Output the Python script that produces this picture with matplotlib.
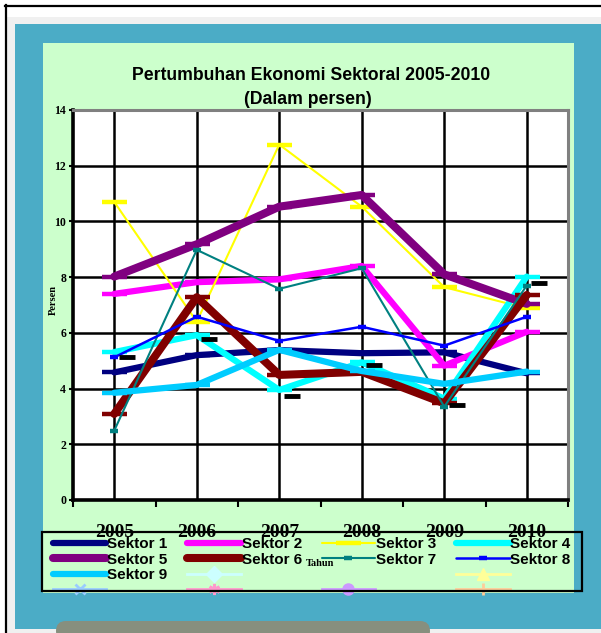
import matplotlib
matplotlib.use("Agg")
import matplotlib.pyplot as plt
from matplotlib.lines import Line2D
from matplotlib.patches import Rectangle, FancyBboxPatch

# data (persen)
years = ["2005", "2006", "2007", "2008", "2009", "2010"]
sektor1 = [4.58, 5.20, 5.38, 5.27, 5.30, 4.55]
sektor2 = [7.40, 7.82, 7.92, 8.40, 4.82, 6.04]
sektor3 = [10.70, 6.40, 12.76, 10.53, 7.64, 6.88]
sektor4 = [5.31, 5.92, 3.95, 4.94, 3.64, 8.02]
sektor5 = [8.02, 9.18, 10.53, 10.95, 8.10, 7.04]
sektor6 = [3.09, 7.28, 4.49, 4.60, 3.47, 7.36]
sektor7 = [2.49, 8.98, 7.58, 8.32, 3.35, 7.70]
sektor8 = [5.12, 6.58, 5.71, 6.22, 5.54, 6.58]
sektor9 = [3.85, 4.13, 5.39, 4.63, 4.17, 4.61]
tanpa_nama = [5.13, 5.78, 3.73, 4.85, 3.41, 7.80]   # black markers, no legend entry

labels = ["Sektor 1", "Sektor 2", "Sektor 3", "Sektor 4", "Sektor 5",
          "Sektor 6", "Sektor 7", "Sektor 8", "Sektor 9"]
series = [sektor1, sektor2, sektor3, sektor4, sektor5,
          sektor6, sektor7, sektor8, sektor9]

colors = ["#000080", "#ff00ff", "#ffff00", "#00ffff", "#800080",
          "#800000", "#008080", "#0000ff", "#00ccff"]
widths = [4.5, 4.5, 1.5, 4.5, 5.8, 5.8, 1.5, 1.8, 4.5]
msizes = [18, 18, 18, 18, 18, 18, 6, 6, 18]

W, H = 601, 633
fig = plt.figure(figsize=(W / 100, H / 100), dpi=100)
fig.patch.set_facecolor("white")

# background, in pixel units
bg = fig.add_axes([0, 0, 1, 1], zorder=0)
bg.set_xlim(0, W)
bg.set_ylim(H, 0)
bg.axis("off")
bg.add_patch(Rectangle((5, 5), W - 5, H - 5, fc="#f0f0f0", ec="none"))
bg.add_patch(Rectangle((7, 7), W - 7, 10, fc="white", ec="none"))
bg.plot([5, W], [6, 6], color="black", lw=1.6)
bg.plot([6, 6], [5, H], color="black", lw=1.6)
bg.add_patch(Rectangle((15, 24), W - 15, 605, fc="#4bacc6", ec="none"))
bg.add_patch(Rectangle((43, 43), 531, 550, fc="#ccffcc", ec="none"))
bg.add_patch(FancyBboxPatch((56, 621), 374, 20, boxstyle="round,pad=0,rounding_size=10",
                            fc="#878f7e", ec="none"))

bg.text(311, 75, "Pertumbuhan Ekonomi Sektoral 2005-2010", ha="center", va="center",
        family="Liberation Sans", weight="bold", fontsize=12.7)
bg.text(308, 100, "(Dalam persen)", ha="center", va="center",
        family="Liberation Sans", weight="bold", fontsize=12.7)
bg.text(53, 300, "Persen", rotation=90, ha="center", va="center",
        family="Liberation Serif", weight="bold", fontsize=7.5)

ax = fig.add_axes([73 / W, 1 - 500 / H, 495 / W, 390 / H], zorder=1)
ax.set_facecolor("white")
x = [i + 0.5 for i in range(len(years))]

lines = []
for vals, lab, c, lw, ms in zip(series, labels, colors, widths, msizes):
    ln, = ax.plot(x, vals, color=c, lw=lw, marker="_", ms=ms, mew=3.2,
                  solid_capstyle="round", solid_joinstyle="round", label=lab)
    lines.append(ln)
ax.plot([v + 0.15 for v in x], tanpa_nama, ls="none", marker="_", ms=12, mew=3.5,
        color="black")

ax.set_xlim(0, 6)
ax.set_ylim(0, 14)
ax.set_yticks(range(0, 15, 2))
ax.set_xticks(x)
ax.set_xticklabels(years)
ax.set_xticks(range(0, 7), minor=True)
ax.grid(True, color="black", lw=1.8)
ax.set_axisbelow(True)
ax.tick_params(axis="x", which="major", length=0, pad=17)
ax.tick_params(axis="x", which="minor", length=5, width=1.5, direction="out")
ax.tick_params(axis="y", length=3, width=1.5, pad=2)
for t in ax.get_yticklabels():
    t.set_fontfamily("Liberation Serif")
    t.set_fontweight("bold")
    t.set_fontsize(8.5)
for t in ax.get_xticklabels():
    t.set_fontfamily("Liberation Serif")
    t.set_fontweight("bold")
    t.set_fontsize(14)
ax.spines["left"].set_linewidth(2.6)
ax.spines["bottom"].set_linewidth(2.6)
ax.spines["top"].set_color("#808080")
ax.spines["right"].set_color("#808080")
ax.spines["top"].set_linewidth(2.2)
ax.spines["right"].set_linewidth(2.2)

# legend (Excel-style, rows filled first)
blank = Line2D([], [], alpha=0)
e10 = Line2D([], [], color="#ccffff", lw=2, marker="D", ms=8)
e12 = Line2D([], [], color="#ffff99", lw=2, marker="^", ms=9)
e13 = Line2D([], [], color="#99ccff", lw=2, marker="x", ms=7, mew=2)
e14 = Line2D([], [], color="#ff99cc", lw=2, marker=(6, 2, 0), ms=8, mew=2)
e15 = Line2D([], [], color="#cc99ff", lw=2, marker="o", ms=8)
e16 = Line2D([], [], color="#ffcc99", lw=2, marker="|", ms=8, mew=2)
rows = [lines[0:4], lines[4:8], [lines[8], e10, blank, e12], [e13, e14, e15, e16]]
row_labels = [labels[0:4], labels[4:8], [labels[8], "", "", ""], ["", "", "", ""]]
handles = [rows[r][c] for c in range(4) for r in range(4)]
leg_labels = [row_labels[r][c] for c in range(4) for r in range(4)]
leg = fig.legend(handles, leg_labels, ncol=4, loc="upper left",
                 bbox_to_anchor=(53 / W, 1 - 537 / H), frameon=False,
                 prop={"family": "Liberation Sans", "weight": "bold", "size": 11},
                 handlelength=3.5, handletextpad=0.05, columnspacing=1.3,
                 labelspacing=0.1, borderpad=0, borderaxespad=0)
leg.set_zorder(3)
box = Rectangle((42, 532), 540, 59, fill=False, ec="black", lw=1.6,
                transform=bg.transData, clip_on=False, zorder=4)
fig.add_artist(box)
fig.text(320 / W, 1 - 564 / H, "Tahun", ha="center", va="center",
         family="Liberation Serif", weight="bold", fontsize=7.5, zorder=5)

fig.savefig("out.png", dpi=100)
